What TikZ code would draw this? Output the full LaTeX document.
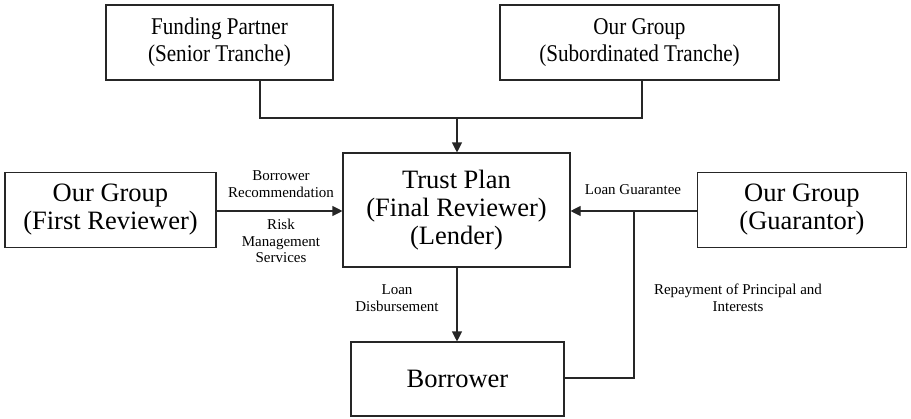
\documentclass[tikz,border=0pt]{standalone}
\usepackage{fontspec}
\setmainfont{Liberation Serif}
\newfontfamily\narrowserif[FakeStretch=0.88]{Liberation Serif}
\usetikzlibrary{arrows.meta}
\begin{document}
\begin{tikzpicture}[x=1pt,y=-1pt,
  box/.style={draw=black!85, line width=1.1pt, inner sep=0pt, align=center,
    font=\fontsize{26.5}{28}\selectfont},
  topbox/.style={box, font=\narrowserif\fontsize{24}{27}\selectfont},
  lbl/.style={align=center, inner sep=0pt, font=\fontsize{15}{16.5}\selectfont},
  conn/.style={draw=black!85, line width=1.1pt},
  arr/.style={conn, -{Triangle[length=10pt,width=10pt]}}]
\useasboundingbox (0,0) rectangle (911,418);
% boxes
\node[topbox, minimum width=227pt, minimum height=75pt] (fund) at (219.5,42.5) {Funding Partner\\(Senior Tranche)};
\node[topbox, minimum width=279pt, minimum height=75pt] (sub) at (639.5,42.5) {Our Group\\(Subordinated Tranche)};
\node[box, minimum width=227pt, minimum height=114pt] (trust) at (456.5,210) {Trust Plan\\(Final Reviewer)\\(Lender)};
\node[box, minimum width=211pt, minimum height=75pt] (first) at (110.5,210) {Our Group\\(First Reviewer)};
\node[box, minimum width=209pt, minimum height=75pt] (guar) at (802,210) {Our Group\\(Guarantor)};
\node[box, minimum width=213pt, minimum height=74pt] (borr) at (457.5,379) {Borrower};
% junction points
\coordinate (j) at (457,118);
\coordinate (r) at (634,211);
% tranches into the trust plan
\draw[conn] (fund.south -| 260,0) |- (j);
\draw[conn] (sub.south -| 642,0) |- (j);
\draw[arr] (j) -- (trust.north -| j);
% reviewer and guarantor links
\draw[arr] (first.east |- 0,211) -- (trust.west |- 0,211);
\draw[arr] (guar.west |- 0,211) -- (trust.east |- 0,211);
\draw[conn] (r) |- (borr.east |- 0,378);
% loan disbursement
\draw[arr] (trust.south -| 457,0) -- (borr.north -| 457,0);
% labels
\node[lbl] (l1) at (281,184) {Borrower\\Recommendation};
\node[lbl] (l2) at (281,241) {Risk\\Management\\Services};
\node[lbl] (l3) at (633,190) {Loan Guarantee};
\node[lbl] (l4) at (397,298) {Loan\\Disbursement};
\node[lbl] (l5) at (738,298) {Repayment of Principal and\\Interests};
\end{tikzpicture}
\end{document}
